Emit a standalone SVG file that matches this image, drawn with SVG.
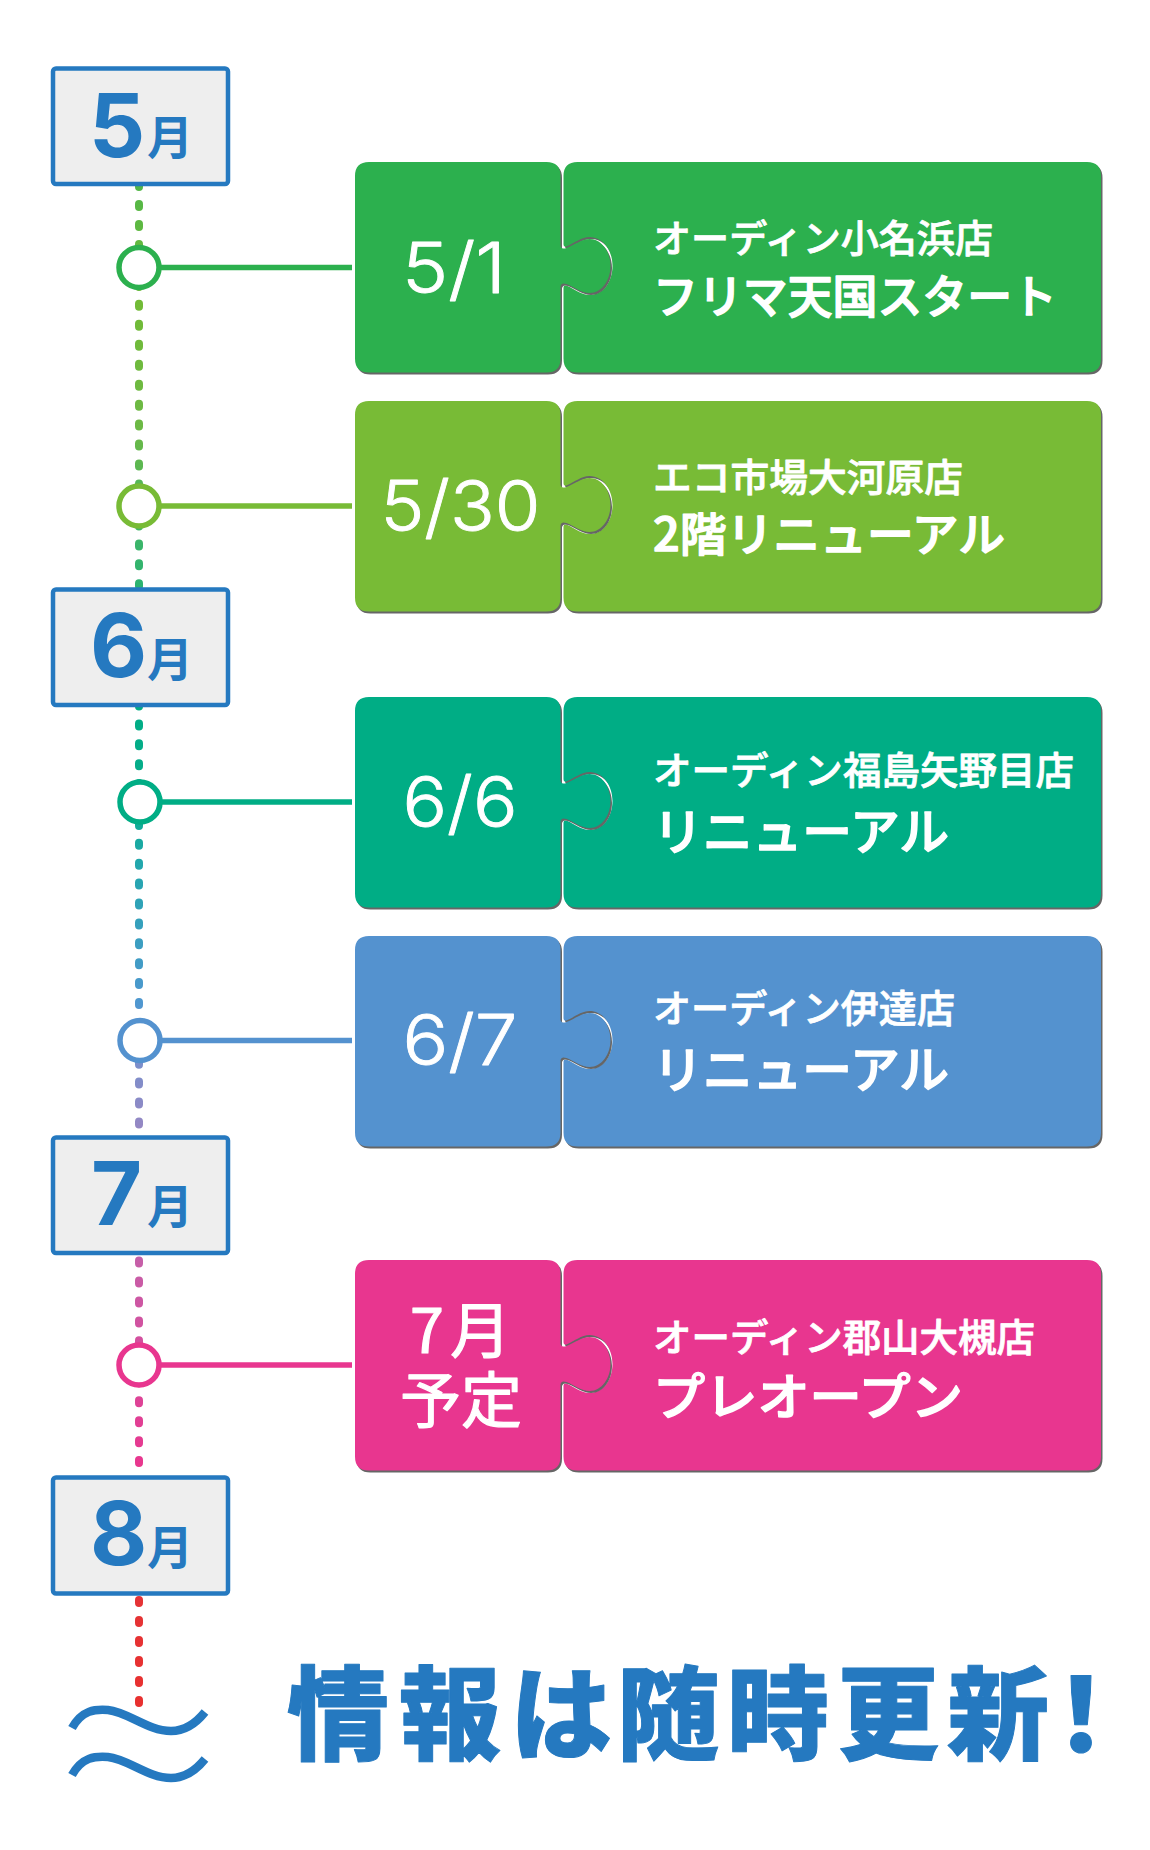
<svg xmlns="http://www.w3.org/2000/svg" width="1150" height="1850" viewBox="0 0 1150 1850">
<style>
.box{fill:#eeeeee;stroke:#2579c0;stroke-width:4.5}
.mn{font-family:"Inter","Liberation Sans",sans-serif;font-weight:700;font-size:88px;fill:#2579c0}
.mj{font-family:"Noto Sans CJK JP",sans-serif;font-weight:700;font-size:46px;fill:#2579c0}
.dt{font-family:"Inter","Noto Sans CJK JP",sans-serif;font-weight:300;font-size:70px;fill:#fff;stroke:#fff;stroke-width:.9;stroke-linejoin:round;text-anchor:middle}
.dj{font-family:"Noto Sans CJK JP",sans-serif;font-weight:400;font-size:61px;fill:#fff;stroke:#fff;stroke-width:1.2;stroke-linejoin:round}
.l1{font-family:"Noto Sans CJK JP",sans-serif;font-weight:500;font-size:38px;fill:#fff;stroke:#fff;stroke-width:.8;stroke-linejoin:round}
.l2{font-family:"Noto Sans CJK JP",sans-serif;font-weight:500;font-size:46px;fill:#fff;stroke:#fff;stroke-width:1.4;stroke-linejoin:round}
.l3{font-size:50px}
.big{font-family:"Noto Sans CJK JP",sans-serif;font-weight:900;font-size:102px;fill:#2579c0;stroke:#2579c0;stroke-width:1;stroke-linejoin:round}
.sh{fill:#666666}
.wave{fill:none;stroke:#2579c0;stroke-width:8.5}
.dots{fill:none;stroke:url(#tl);stroke-width:8;stroke-linecap:round}
.cir{fill:#fff;stroke-width:5.5}
.ln{stroke-width:5.5}
</style>
<defs>
<linearGradient id="tl" gradientUnits="userSpaceOnUse" x1="0" y1="186" x2="0" y2="1710">
<stop offset="0" stop-color="#52b748"/>
<stop offset="0.0748" stop-color="#72bb36"/>
<stop offset="0.16" stop-color="#6cb946"/>
<stop offset="0.2356" stop-color="#3ab56a"/>
<stop offset="0.3406" stop-color="#00ad85"/>
<stop offset="0.404" stop-color="#08ad8c"/>
<stop offset="0.445" stop-color="#22a7ad"/>
<stop offset="0.536" stop-color="#4f97d0"/>
<stop offset="0.576" stop-color="#7b8fcb"/>
<stop offset="0.615" stop-color="#9388c4"/>
<stop offset="0.706" stop-color="#c65fa8"/>
<stop offset="0.837" stop-color="#e8378f"/>
<stop offset="0.9285" stop-color="#e53335"/>
<stop offset="1" stop-color="#e8302f"/>
</linearGradient>
<path id="pl" d="M14 0H191.500Q205.500 0 205.500 14V84C206.500 87 208.500 87 211.500 86C219.500 83 226.500 77 234.500 77C247 77 255.500 90 255.500 104C255.500 118 247 131 234.500 131C226.500 131 219.500 125 211.500 122C208.500 121 206.500 121 205.500 124V196.500Q205.500 210.500 191.500 210.500H14Q0 210.500 0 196.500V14Q0 0 14 0Z"/>
<path id="pr" d="M222.500 0H732Q746 0 746 14V196.500Q746 210.500 732 210.500H222.500Q208.500 210.500 208.500 196.500V126C208.500 123 210.500 123 212.500 124C219.500 127 226.500 133 234.500 133C248.500 133 257.500 119 257.500 104C257.500 89 248.500 75 234.500 75C226.500 75 219.500 81 212.500 84C210.500 85 208.500 85 208.500 82V14Q208.500 0 222.500 0Z"/>
</defs>
<rect width="1150" height="1850" fill="#fff"/>
<g id="connectors">
<path class="dots" stroke-dasharray="3 16.96" d="M139 184.100V590"/>
<path class="dots" stroke-dasharray="3 16.9" d="M139 703.500V1135"/>
<path class="dots" stroke-dasharray="3 16.96" d="M139 1260.500V1476"/>
<path class="dots" stroke-dasharray="3 17" d="M139 1600.100V1704"/>
<path class="ln" stroke="#2cb04e" d="M160 267.500H352"/>
<path class="ln" stroke="#78bb36" d="M160 506H352"/>
<path class="ln" stroke="#00ad85" d="M160 802H352"/>
<path class="ln" stroke="#5492cf" d="M160 1040.500H352"/>
<path class="ln" stroke="#e8368f" d="M160 1365H352"/>
</g>
<g id="m5"><rect class="box" x="53" y="68.500" width="175" height="115.500" rx="3"/><text class="mn" x="89" y="157">5</text><text class="mj" x="147" y="154">月</text></g>
<g id="m6"><rect class="box" x="53" y="589.500" width="175" height="115.500" rx="3"/><text class="mn" x="90" y="677">6</text><text class="mj" x="147" y="676">月</text></g>
<g id="m7"><rect class="box" x="53" y="1137.500" width="175" height="115.500" rx="3"/><text class="mn" x="91" y="1225">7</text><text class="mj" x="147" y="1223">月</text></g>
<g id="m8"><rect class="box" x="53" y="1477.500" width="175" height="116" rx="3"/><text class="mn" x="90" y="1565">8</text><text class="mj" x="147" y="1564">月</text></g>
<g id="c1"><circle class="cir" stroke="#2cb04e" cx="139" cy="267.500" r="20"/>
<g transform="translate(355 162)" fill="#2cb04e"><use href="#pr" class="sh" x="1.500" y="2"/><use href="#pr"/><use href="#pl" class="sh" x="1.500" y="2"/><use href="#pl"/></g>
<text class="dt" x="454" y="293" textLength="104" lengthAdjust="spacingAndGlyphs">5/1</text>
<text class="l1" x="653" y="252" textLength="340" lengthAdjust="spacingAndGlyphs">オーディン小名浜店</text>
<text class="l2" x="653" y="313" textLength="404" lengthAdjust="spacingAndGlyphs">フリマ天国スタート</text></g>
<g id="c2"><circle class="cir" stroke="#78bb36" cx="139" cy="506" r="20"/>
<g transform="translate(355 401)" fill="#78bb36"><use href="#pr" class="sh" x="1.500" y="2"/><use href="#pr"/><use href="#pl" class="sh" x="1.500" y="2"/><use href="#pl"/></g>
<text class="dt" x="460.500" y="531" textLength="160" lengthAdjust="spacingAndGlyphs">5/30</text>
<text class="l1" x="653" y="491" textLength="310" lengthAdjust="spacingAndGlyphs">エコ市場大河原店</text>
<text class="l2" x="653" y="551" textLength="352" lengthAdjust="spacingAndGlyphs">2階リニューアル</text></g>
<g id="c3"><circle class="cir" stroke="#00ad85" cx="140" cy="802" r="20"/>
<g transform="translate(355 697)" fill="#00ad85"><use href="#pr" class="sh" x="1.500" y="2"/><use href="#pr"/><use href="#pl" class="sh" x="1.500" y="2"/><use href="#pl"/></g>
<text class="dt" x="460" y="827" textLength="115" lengthAdjust="spacingAndGlyphs">6/6</text>
<text class="l1" x="653" y="784" textLength="421" lengthAdjust="spacingAndGlyphs">オーディン福島矢野目店</text>
<text class="l2 l3" x="653" y="850" textLength="296" lengthAdjust="spacingAndGlyphs">リニューアル</text></g>
<g id="c4"><circle class="cir" stroke="#5492cf" cx="140" cy="1040.500" r="20"/>
<g transform="translate(355 936)" fill="#5492cf"><use href="#pr" class="sh" x="1.500" y="2"/><use href="#pr"/><use href="#pl" class="sh" x="1.500" y="2"/><use href="#pl"/></g>
<text class="dt" x="460" y="1065" textLength="115" lengthAdjust="spacingAndGlyphs">6/7</text>
<text class="l1" x="653" y="1022" textLength="302" lengthAdjust="spacingAndGlyphs">オーディン伊達店</text>
<text class="l2 l3" x="653" y="1088" textLength="296" lengthAdjust="spacingAndGlyphs">リニューアル</text></g>
<g id="c5"><circle class="cir" stroke="#e8368f" cx="139" cy="1365" r="20"/>
<g transform="translate(355 1260)" fill="#e8368f"><use href="#pr" class="sh" x="1.500" y="2"/><use href="#pr"/><use href="#pl" class="sh" x="1.500" y="2"/><use href="#pl"/></g>
<text class="dj"><tspan x="410 450" y="1353">7月</tspan><tspan x="400" y="1423">予定</tspan></text>
<text class="l1" x="653" y="1351" textLength="382" lengthAdjust="spacingAndGlyphs">オーディン郡山大槻店</text>
<text class="l2 l3" x="653" y="1415" textLength="310" lengthAdjust="spacingAndGlyphs">プレオープン</text></g>
<g id="wave"><path class="wave" d="M72 1728C82 1710 95 1709 108 1710C128 1712 148 1731 171 1731C185 1731 197 1722 205 1712"/><path class="wave" d="M72 1775C82 1757 95 1756 108 1757C128 1759 148 1778 171 1778C185 1778 197 1769 205 1759"/></g>
<g id="headline"><text class="big" x="287 399 510 617 727 837 947 1030" y="1752">情報は随時更新！</text></g>
</svg>
